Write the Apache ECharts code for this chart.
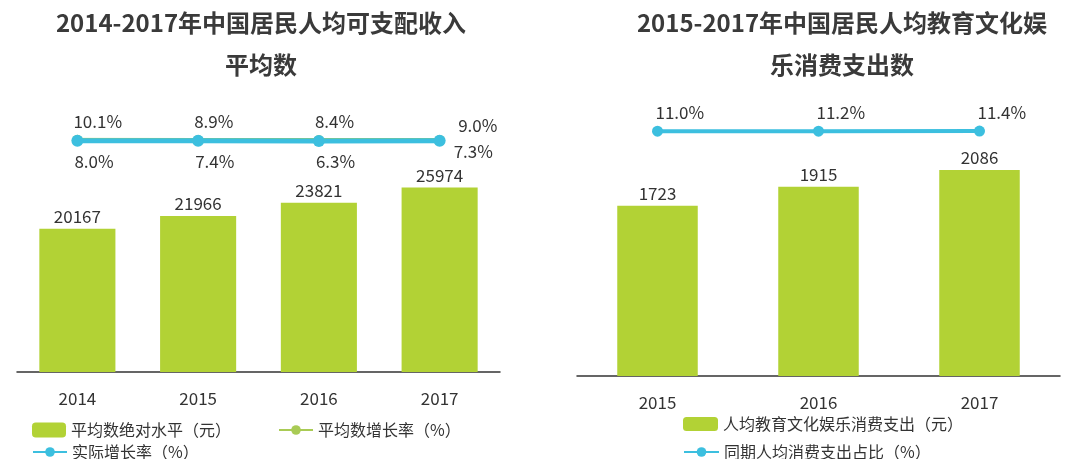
<!DOCTYPE html>
<html>
<head>
<meta charset="utf-8">
<script src="https://cdn.jsdelivr.net/npm/echarts@6/dist/echarts.min.js"></script>
<style>
html,body{margin:0;padding:0;background:#fff;}
#c{width:1080px;height:459px;}
</style>
</head>
<body>
<div id="c"></div>
<script>
// ---- data ----
const leftTitle = '2014-2017年中国居民人均可支配收入\n平均数';
const rightTitle = '2015-2017年中国居民人均教育文化娱\n乐消费支出数';
const leftYears = ['2014', '2015', '2016', '2017'];
const incomeAvg = [20167, 21966, 23821, 25974];
const nominalGrowth = [10.1, 8.9, 8.4, 9.0];
const realGrowth = [8.0, 7.4, 6.3, 7.3];
const rightYears = ['2015', '2016', '2017'];
const eduSpend = [1723, 1915, 2086];
const eduShare = [11.0, 11.2, 11.4];
const names = {
  incomeAvg: '平均数绝对水平（元）',
  nominal: '平均数增长率（%）',
  real: '实际增长率（%）',
  edu: '人均教育文化娱乐消费支出（元）',
  share: '同期人均消费支出占比（%）'
};

const FONT = '"Noto Sans CJK SC", "Noto Sans", sans-serif';
const GREEN = '#b2d235';
const LGREEN = '#a9cb55';
const BLUE = '#3cbfdf';
const TXT = '#333333';
const pct = p => p.value.toFixed(1) + '%';

const chart = echarts.init(document.getElementById('c'));

function lastLabel(arr, lbl) {
  return arr.map((v, i) => i === arr.length - 1 ? { value: v, label: lbl } : v);
}

const option = {
  backgroundColor: '#ffffff',
  animation: false,
  textStyle: { fontFamily: FONT, color: TXT },
  title: [
    { text: leftTitle, left: 261, top: 2, textAlign: 'center', padding: 0,
      textStyle: { fontFamily: FONT, fontSize: 24, fontWeight: 'bold', color: '#3a3a3a', lineHeight: 42 } },
    { text: rightTitle, left: 842, top: 2, textAlign: 'center', padding: 0,
      textStyle: { fontFamily: FONT, fontSize: 24, fontWeight: 'bold', color: '#3a3a3a', lineHeight: 42 } }
  ],
  grid: [
    { left: 17, width: 483, top: 159, height: 213 },
    { left: 17, width: 483, top: 140, height: 2 },
    { left: 577, width: 483, top: 129, height: 247 },
    { left: 577, width: 483, top: 131, height: 2 }
  ],
  xAxis: [
    { type: 'category', gridIndex: 0, data: leftYears,
      axisLine: { lineStyle: { color: '#333', width: 1.5 } }, axisTick: { show: false },
      axisLabel: { fontSize: 17, color: TXT, fontFamily: FONT, margin: 18 } },
    { type: 'category', gridIndex: 1, data: leftYears, show: false },
    { type: 'category', gridIndex: 2, data: rightYears,
      axisLine: { lineStyle: { color: '#333', width: 1.5 } }, axisTick: { show: false },
      axisLabel: { fontSize: 17, color: TXT, fontFamily: FONT, margin: 18 } },
    { type: 'category', gridIndex: 3, data: rightYears, show: false }
  ],
  yAxis: [
    { type: 'value', gridIndex: 0, min: 0, max: 30000, show: false },
    { type: 'value', gridIndex: 1, min: 0, max: 12, show: false },
    { type: 'value', gridIndex: 2, min: 0, max: 2500, show: false },
    { type: 'value', gridIndex: 3, min: 0, max: 12, show: false }
  ],
  legend: [
    { left: 32, top: 422, padding: 0, itemWidth: 34, itemHeight: 15, itemGap: 4,
      data: [names.incomeAvg], textStyle: { fontSize: 16, color: TXT, fontFamily: FONT } },
    { left: 278, top: 422, padding: 0, itemWidth: 34, itemHeight: 12, itemGap: 4,
      data: [names.nominal], textStyle: { fontSize: 16, color: TXT, fontFamily: FONT } },
    { left: 32, top: 444, padding: 0, itemWidth: 34, itemHeight: 12, itemGap: 4,
      data: [names.real], textStyle: { fontSize: 16, color: TXT, fontFamily: FONT } },
    { left: 683, top: 416, padding: 0, itemWidth: 35, itemHeight: 14, itemGap: 4,
      data: [names.edu], textStyle: { fontSize: 16, color: TXT, fontFamily: FONT } },
    { left: 683, top: 444, padding: 0, itemWidth: 35, itemHeight: 12, itemGap: 4,
      data: [names.share], textStyle: { fontSize: 16, color: TXT, fontFamily: FONT } }
  ],
  series: [
    { name: names.incomeAvg, type: 'bar', xAxisIndex: 0, yAxisIndex: 0, data: incomeAvg,
      barWidth: '63%', itemStyle: { color: GREEN },
      label: { show: true, position: 'top', distance: 4, fontSize: 17, color: TXT, fontFamily: FONT } },
    { name: names.nominal, type: 'line', xAxisIndex: 1, yAxisIndex: 1,
      data: lastLabel(nominalGrowth, { position: 'right', align: 'left', offset: [8, -15] }),
      symbol: 'circle', symbolSize: 11, lineStyle: { color: LGREEN, width: 5 }, itemStyle: { color: LGREEN },
      label: { show: true, position: 'top', align: 'left', offset: [-4, 0], distance: 5,
        formatter: pct, fontSize: 17, color: TXT, fontFamily: FONT } },
    { name: names.real, type: 'line', xAxisIndex: 1, yAxisIndex: 1,
      data: lastLabel(realGrowth, { position: 'right', align: 'left', offset: [3, 11] }),
      symbol: 'circle', symbolSize: 12, lineStyle: { color: BLUE, width: 5 }, itemStyle: { color: BLUE },
      label: { show: true, position: 'bottom', align: 'left', offset: [-3, 1], distance: 5,
        formatter: pct, fontSize: 17, color: TXT, fontFamily: FONT } },
    { name: names.edu, type: 'bar', xAxisIndex: 2, yAxisIndex: 2, data: eduSpend,
      barWidth: '50%', itemStyle: { color: GREEN },
      label: { show: true, position: 'top', distance: 4, fontSize: 17, color: TXT, fontFamily: FONT } },
    { name: names.share, type: 'line', xAxisIndex: 3, yAxisIndex: 3, data: eduShare,
      symbol: 'circle', symbolSize: 11, lineStyle: { color: BLUE, width: 4 }, itemStyle: { color: BLUE },
      label: { show: true, position: 'top', align: 'left', offset: [-2, 0], distance: 5,
        formatter: pct, fontSize: 17, color: TXT, fontFamily: FONT } }
  ]
};
chart.setOption(option);
</script>
</body>
</html>
